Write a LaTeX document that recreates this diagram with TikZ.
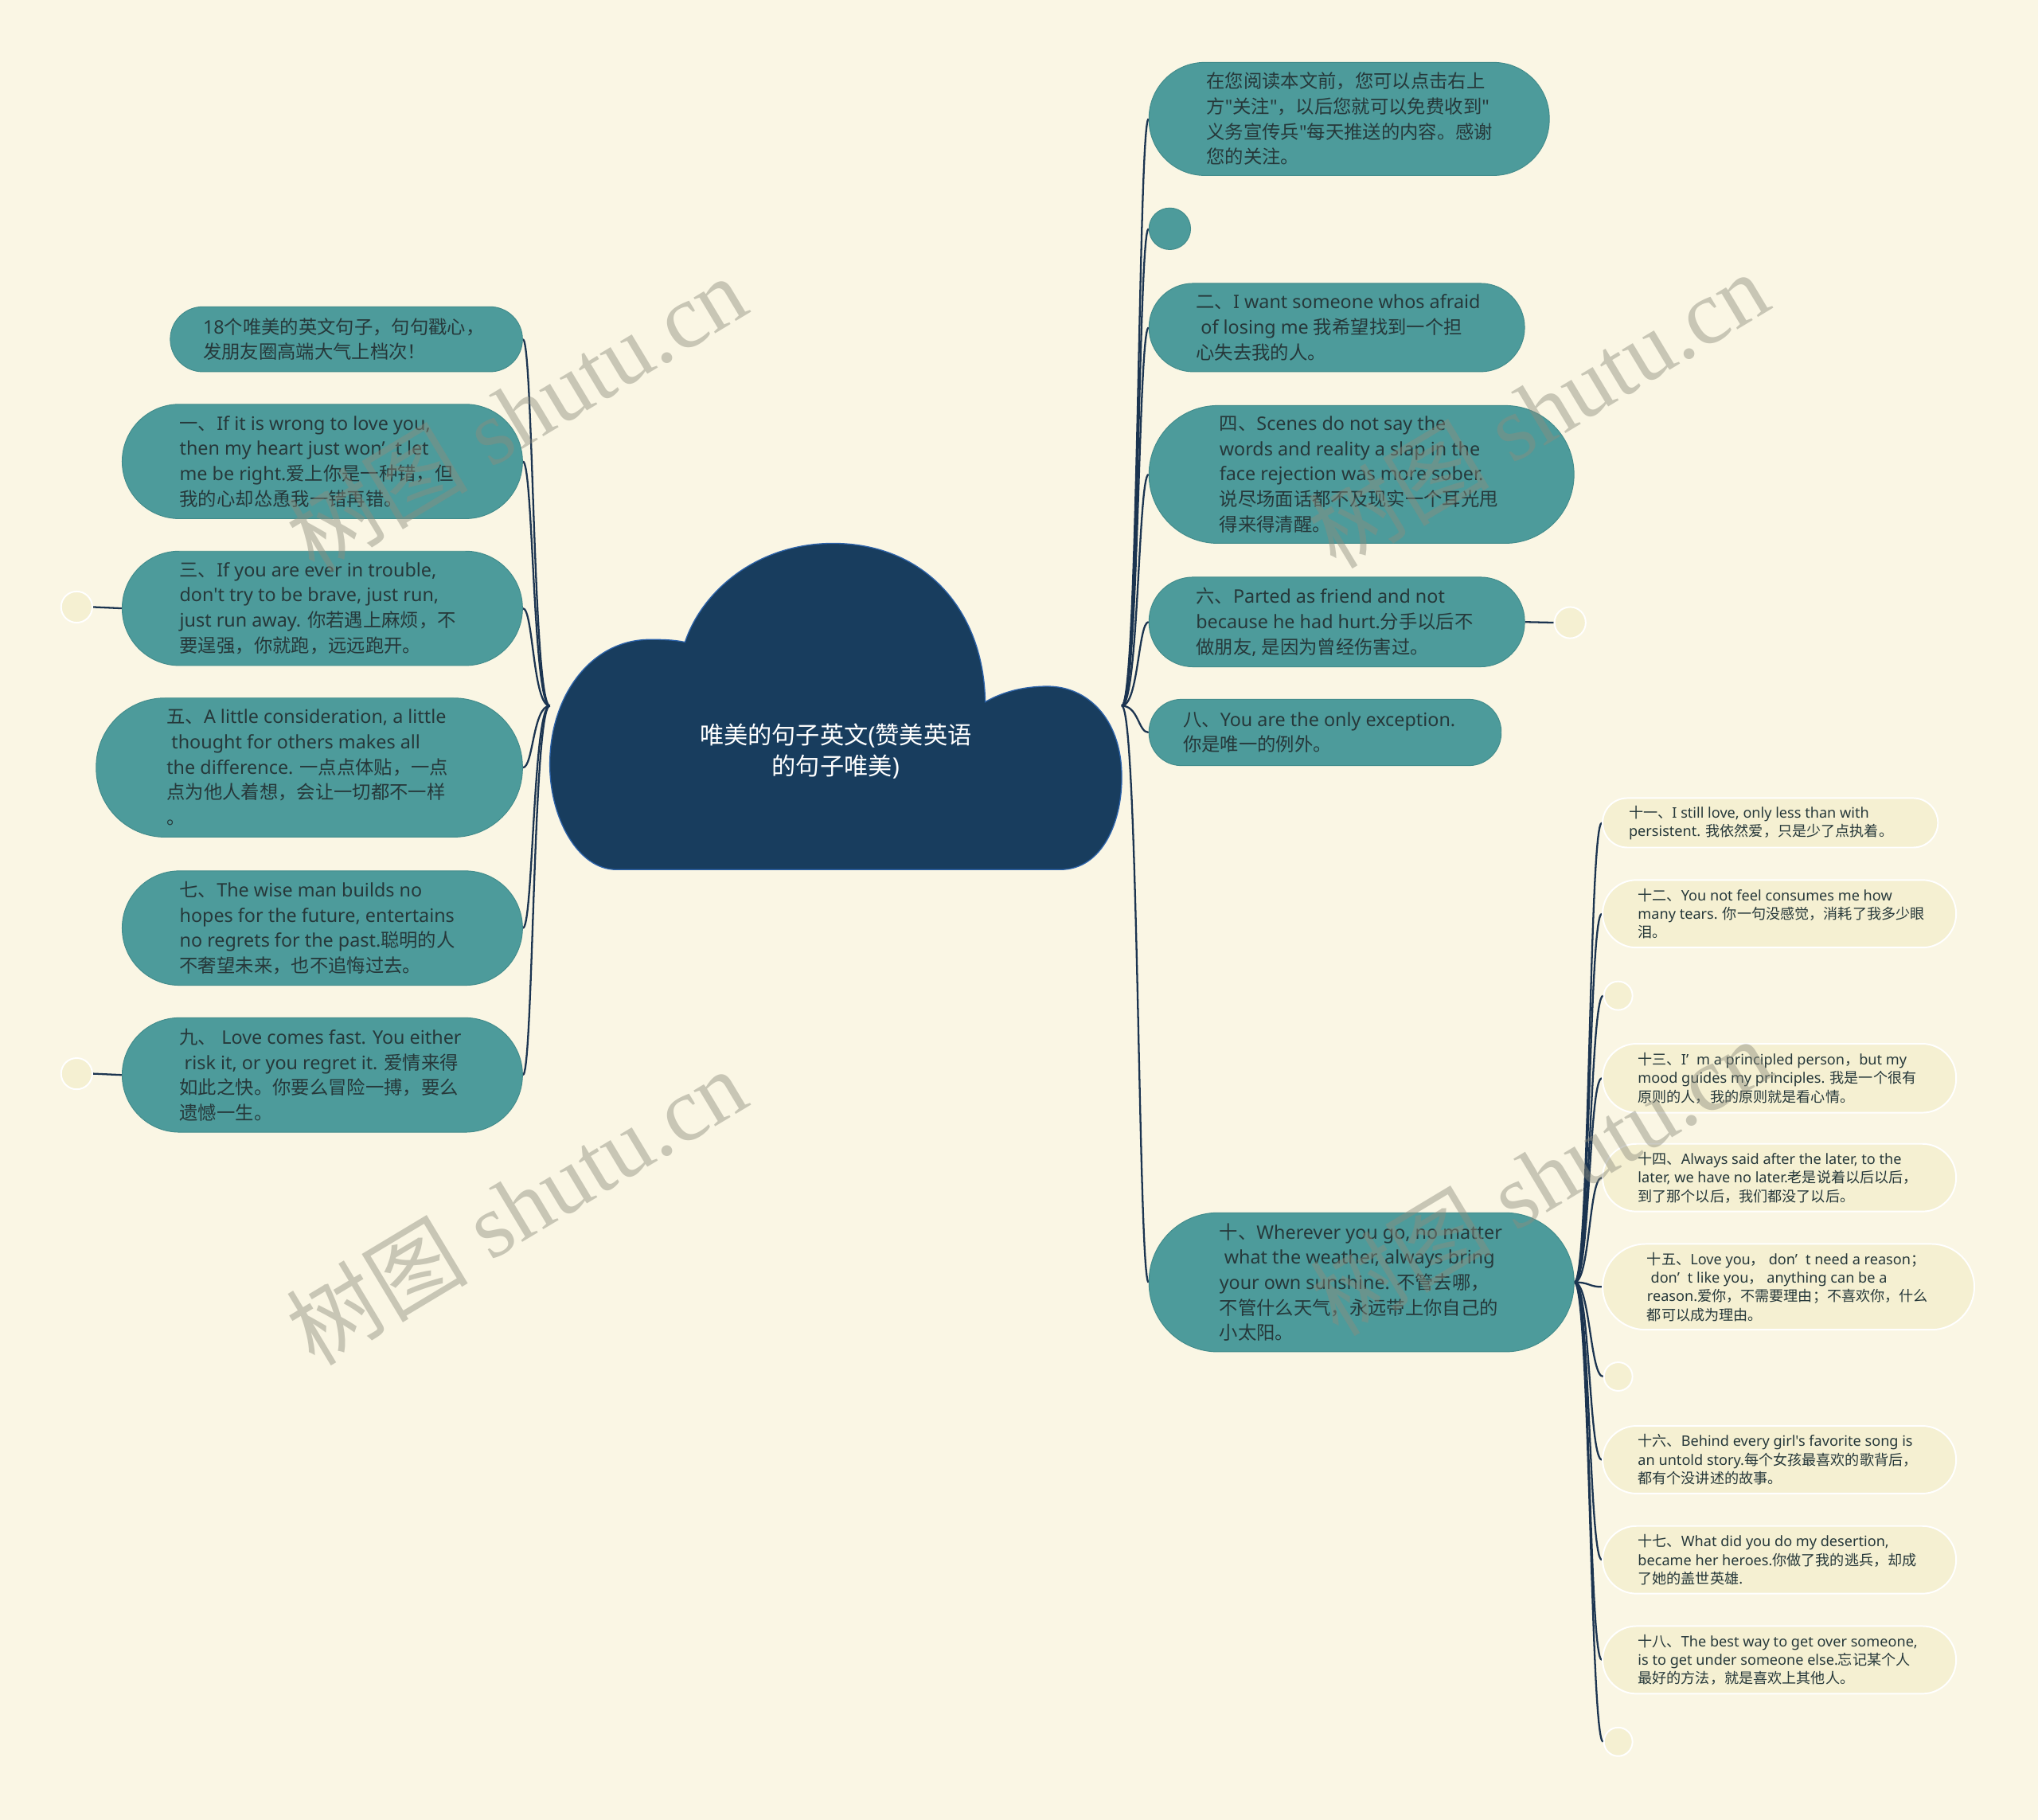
\documentclass[tikz,border=0pt]{standalone}
\usepackage{fontspec}
\setmainfont{Noto Sans}[Ligatures=TeXOff]
\newfontfamily\zhfont{Noto Sans CJK SC}[Ligatures=TeXOff]
\newfontfamily\lafont{Noto Sans}[Ligatures=TeXOff]
\newfontfamily\wmserif{Liberation Serif}
\XeTeXinterchartokenstate=1
\newXeTeXintercharclass\zhclass
\newcount\zhc
\def\setzhrange#1#2{\zhc=#1\relax\loop\XeTeXcharclass\zhc=\zhclass\relax\ifnum\zhc<#2\relax\advance\zhc by 1\relax\repeat}
\setzhrange{"3000}{"303F}
\setzhrange{"4E00}{"9FFF}
\setzhrange{"FF00}{"FFEF}
\XeTeXinterchartoks 0 \zhclass = {\zhfont}
\XeTeXinterchartoks 4095 \zhclass = {\zhfont}
\XeTeXinterchartoks \zhclass 0 = {\lafont}
\XeTeXinterchartoks \zhclass 4095 = {\lafont}
\usetikzlibrary{calc}
\definecolor{bgc}{RGB}{250,246,228}
\definecolor{teal1}{RGB}{77,155,155}
\definecolor{tealb}{RGB}{66,140,140}
\definecolor{txt}{RGB}{38,56,58}
\definecolor{cloudc}{RGB}{24,61,94}
\definecolor{cloudb}{RGB}{46,100,170}
\definecolor{linec}{RGB}{27,52,80}
\definecolor{creamc}{RGB}{245,240,210}
\definecolor{wmc}{RGB}{140,140,125}
\newcommand\myq{’\hspace{0.55em}}
\pgfdeclarelayer{bgfill}
\pgfdeclarelayer{links}
\pgfsetlayers{bgfill,links,main}
\begin{document}
\begin{tikzpicture}[x=1pt,y=-1pt,
  tbox/.style={draw=tealb, line width=0.6pt, fill=teal1, inner sep=0pt, rectangle},
  cbox/.style={draw=white, line width=1.2pt, fill=creamc, inner sep=0pt, rectangle},
  tcirc/.style={circle, draw=tealb, line width=0.6pt, fill=teal1, inner sep=0pt},
  ccirc/.style={circle, draw=white, line width=1.2pt, fill=creamc, inner sep=0pt},
  bigtxt/.style={inner sep=0pt, align=left, text=txt, font=\fontsize{14.3}{19.4}\selectfont, anchor=west},
  smtxt/.style={inner sep=0pt, align=left, text=txt, font=\fontsize{11.1}{14.3}\selectfont, anchor=west},
  link/.style={draw=linec, line width=1.4pt},
  wm/.style={text=wmc, opacity=0.45, rotate=31, font=\fontsize{70}{70}\selectfont, inner sep=0pt}
]
\useasboundingbox (0,0) rectangle (1568,1400);
\begin{pgfonlayer}{bgfill}
\fill[bgc] (0,0) rectangle (1568,1400);
\end{pgfonlayer}

% central cloud
\fill[cloudc, draw=cloudb, line width=0.8pt]
 (474,669) -- (816,669)
 .. controls (848,669) and (864,632) .. (863,595)
 .. controls (862,552) and (836,528) .. (806,528)
 .. controls (786,528) and (770,533) .. (758,540)
 .. controls (757,470) and (712,418) .. (641,418)
 .. controls (582,418) and (540,455) .. (527,494)
 .. controls (518,492) and (508,492) .. (500,492)
 .. controls (455,492) and (423,535) .. (423,588)
 .. controls (423,630) and (445,669) .. (474,669) -- cycle;
\node[text=white, align=center, font=\fontsize{18.5}{24}\selectfont, inner sep=0pt] (root) at (643,578) {唯美的句子英文(赞美英语\\的句子唯美)};
\coordinate (rootL) at (423,543);
\coordinate (rootR) at (863,543);

% left branch
\node[tbox, minimum width=271pt, minimum height=50pt, rounded corners=25pt] (L0) at (266.5,261) {};
\node[bigtxt] (L0t) at (156,261) {18个唯美的英文句子，句句戳心，\\发朋友圈高端大气上档次！};
\node[tbox, minimum width=308pt, minimum height=88pt, rounded corners=44pt] (L1) at (248,355) {};
\node[bigtxt] (L1t) at (138,355) {一、If it is wrong to love you,\\then my heart just won\myq t let\\me be right.爱上你是一种错，但\\我的心却怂恿我一错再错。};
\node[tbox, minimum width=308pt, minimum height=88pt, rounded corners=44pt] (L2) at (248,468) {};
\node[bigtxt] (L2t) at (138,468) {三、If you are ever in trouble,\\don't try to be brave, just run,\\just run away. 你若遇上麻烦，不\\要逞强，你就跑，远远跑开。};
\node[tbox, minimum width=328pt, minimum height=107pt, rounded corners=53pt] (L3) at (238,590.5) {};
\node[bigtxt] (L3t) at (128,590.5) {五、A little consideration, a little\\\ thought for others makes all\\the difference. 一点点体贴，一点\\点为他人着想，会让一切都不一样\\。};
\node[tbox, minimum width=308pt, minimum height=88pt, rounded corners=44pt] (L4) at (248,714) {};
\node[bigtxt] (L4t) at (138,714) {七、The wise man builds no\\hopes for the future, entertains\\no regrets for the past.聪明的人\\不奢望未来，也不追悔过去。};
\node[tbox, minimum width=308pt, minimum height=88pt, rounded corners=44pt] (L5) at (248,827) {};
\node[bigtxt] (L5t) at (138,827) {九、 Love comes fast. You either\\\ risk it, or you regret it. 爱情来得\\如此之快。你要么冒险一搏，要么\\遗憾一生。};
\node[ccirc, minimum size=24pt] (LC2) at (59,467) {};
\node[ccirc, minimum size=24pt] (LC5) at (59,826) {};

% right branch
\node[tbox, minimum width=308pt, minimum height=87pt, rounded corners=43pt] (R1) at (1038,91.5) {};
\node[bigtxt] (R1t) at (928,91.5) {在您阅读本文前，您可以点击右上\\方"关注"，以后您就可以免费收到"\\义务宣传兵"每天推送的内容。感谢\\您的关注。};
\node[tcirc, minimum size=32pt] (R2) at (900,176) {};
\node[tbox, minimum width=289pt, minimum height=68pt, rounded corners=34pt] (R3) at (1028.5,252) {};
\node[bigtxt] (R3t) at (920,252) {二、I want someone whos afraid\\\ of losing me 我希望找到一个担\\心失去我的人。};
\node[tbox, minimum width=327pt, minimum height=106pt, rounded corners=53pt] (R4) at (1047.5,365) {};
\node[bigtxt] (R4t) at (938,365) {四、Scenes do not say the\\words and reality a slap in the\\face rejection was more sober.\\说尽场面话都不及现实一个耳光甩\\得来得清醒。};
\node[tbox, minimum width=289pt, minimum height=69pt, rounded corners=34pt] (R5) at (1028.5,478.5) {};
\node[bigtxt] (R5t) at (920,478.5) {六、Parted as friend and not\\because he had hurt.分手以后不\\做朋友, 是因为曾经伤害过。};
\node[ccirc, minimum size=24pt] (RC5) at (1208,479) {};
\node[tbox, minimum width=271pt, minimum height=51pt, rounded corners=25pt] (R6) at (1019.5,563.5) {};
\node[bigtxt] (R6t) at (910,563.5) {八、You are the only exception.\\你是唯一的例外。};
\node[tbox, minimum width=327pt, minimum height=107pt, rounded corners=53pt] (R7) at (1047.5,986.5) {};
\node[bigtxt] (R7t) at (938,986.5) {十、Wherever you go, no matter\\\ what the weather, always bring\\your own sunshine. 不管去哪，\\不管什么天气，永远带上你自己的\\小太阳。};

% third level
\node[cbox, minimum width=258pt, minimum height=38pt, rounded corners=19pt] (S1) at (1362,633) {};
\node[smtxt] (S1t) at (1253,633) {十一、I still love, only less than with\\persistent. 我依然爱，只是少了点执着。};
\node[cbox, minimum width=272pt, minimum height=52pt, rounded corners=26pt] (S2) at (1369,703) {};
\node[smtxt] (S2t) at (1260,703) {十二、You not feel consumes me how\\many tears. 你一句没感觉，消耗了我多少眼\\泪。};
\node[ccirc, minimum size=22pt] (S3) at (1245,766) {};
\node[cbox, minimum width=272pt, minimum height=53pt, rounded corners=26pt] (S4) at (1369,829.5) {};
\node[smtxt] (S4t) at (1260,829.5) {十三、I\myq m a principled person，but my\\mood guides my principles. 我是一个很有\\原则的人，我的原则就是看心情。};
\node[cbox, minimum width=272pt, minimum height=52pt, rounded corners=26pt] (S5) at (1369,906) {};
\node[smtxt] (S5t) at (1260,906) {十四、Always said after the later, to the\\later, we have no later.老是说着以后以后，\\到了那个以后，我们都没了以后。};
\node[cbox, minimum width=286pt, minimum height=66pt, rounded corners=33pt] (S6) at (1376,990) {};
\node[smtxt] (S6t) at (1267,990) {十五、Love you， don\myq t need a reason；\\\ don\myq t like you， anything can be a\\reason.爱你，不需要理由；不喜欢你，什么\\都可以成为理由。};
\node[ccirc, minimum size=22pt] (S7) at (1245,1059) {};
\node[cbox, minimum width=272pt, minimum height=52pt, rounded corners=26pt] (S8) at (1369,1123) {};
\node[smtxt] (S8t) at (1260,1123) {十六、Behind every girl's favorite song is\\an untold story.每个女孩最喜欢的歌背后，\\都有个没讲述的故事。};
\node[cbox, minimum width=272pt, minimum height=52pt, rounded corners=26pt] (S9) at (1369,1200) {};
\node[smtxt] (S9t) at (1260,1200) {十七、What did you do my desertion,\\became her heroes.你做了我的逃兵，却成\\了她的盖世英雄.};
\node[cbox, minimum width=272pt, minimum height=52pt, rounded corners=26pt] (S10) at (1369,1277) {};
\node[smtxt] (S10t) at (1260,1277) {十八、The best way to get over someone,\\is to get under someone else.忘记某个人\\最好的方法，就是喜欢上其他人。};
\node[ccirc, minimum size=22pt] (S11) at (1245,1340) {};

% connectors
\begin{pgfonlayer}{links}
\foreach \n in {L0,L1,L2,L3,L4,L5}
  \draw[link] (rootL) .. controls +(-13,0) and +(8,0) .. (\n.east);
\foreach \n in {R1,R2,R3,R4,R5,R6,R7}
  \draw[link] (rootR) .. controls +(13,0) and +(-8,0) .. (\n.west);
\foreach \n in {S1,S2,S3,S4,S5,S6,S7,S8,S9,S10,S11}
  \draw[link] (R7.east) .. controls +(12,0) and +(-10,0) .. (\n.west);
\draw[link] (L2.west) -- (LC2.east);
\draw[link] (L5.west) -- (LC5.east);
\draw[link] (R5.east) -- (RC5.west);
\end{pgfonlayer}

% watermarks
\node[wm] (wm1) at (397,318) {树图 {\wmserif shutu.cn}};
\node[wm] (wm2) at (397,928) {树图 {\wmserif shutu.cn}};
\node[wm] (wm3) at (1183,315) {树图 {\wmserif shutu.cn}};
\node[wm] (wm4) at (1185,905) {树图 {\wmserif shutu.cn}};
\end{tikzpicture}
\end{document}
